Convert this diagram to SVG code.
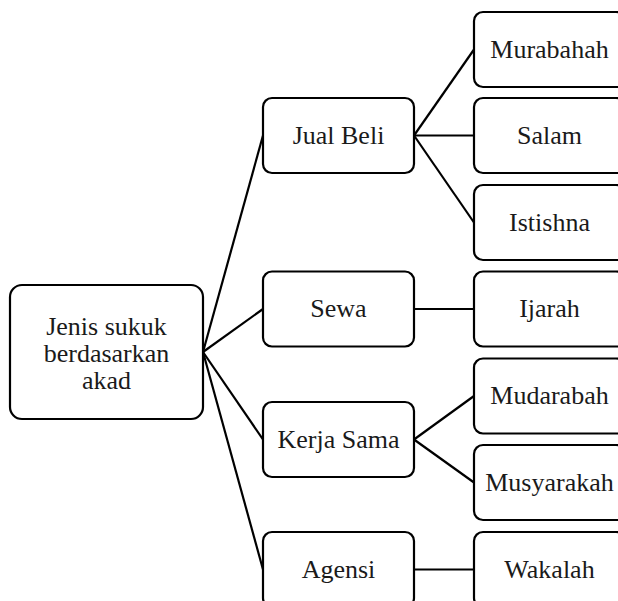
<svg xmlns="http://www.w3.org/2000/svg" width="618" height="601" viewBox="0 0 618 601">
  <style>
    .box { fill: #ffffff; stroke: #000000; stroke-width: 2.2; }
    .lbl { font-family: "Liberation Serif", "DejaVu Serif", serif; font-size: 26px; fill: #1a1a1a; text-anchor: middle; }
    .links line { stroke: #000000; stroke-width: 2.2; }
  </style>
  <rect width="618" height="601" fill="#ffffff"/>

  <!-- connectors -->
  <g id="connectors" class="links">
    <line x1="203" y1="352" x2="263" y2="135.5"/>
    <line x1="203" y1="352" x2="263" y2="309"/>
    <line x1="203" y1="352" x2="263" y2="439.5"/>
    <line x1="203" y1="352" x2="263" y2="569.5"/>
    <line x1="414" y1="135.5" x2="474" y2="49.5"/>
    <line x1="414" y1="135.5" x2="474" y2="135.5"/>
    <line x1="414" y1="135.5" x2="474" y2="222.5"/>
    <line x1="414" y1="309" x2="474" y2="309"/>
    <line x1="414" y1="439.5" x2="474" y2="396"/>
    <line x1="414" y1="439.5" x2="474" y2="482.5"/>
    <line x1="414" y1="569.5" x2="474" y2="569.5"/>
  </g>

  <!-- root -->
  <g id="root">
    <rect class="box" x="10" y="285" width="193" height="134" rx="12"/>
    <text class="lbl" x="106.5" y="335">Jenis sukuk</text>
    <text class="lbl" x="106.5" y="362">berdasarkan</text>
    <text class="lbl" x="106.5" y="389">akad</text>
  </g>

  <!-- second level -->
  <g id="jual-beli">
    <rect class="box" x="263" y="98" width="151" height="75" rx="9"/>
    <text class="lbl" x="338.5" y="144">Jual Beli</text>
  </g>
  <g id="sewa">
    <rect class="box" x="263" y="271.5" width="151" height="75" rx="9"/>
    <text class="lbl" x="338.5" y="317">Sewa</text>
  </g>
  <g id="kerja-sama">
    <rect class="box" x="263" y="402" width="151" height="75" rx="9"/>
    <text class="lbl" x="338.5" y="448">Kerja Sama</text>
  </g>
  <g id="agensi">
    <rect class="box" x="263" y="532" width="151" height="75" rx="9"/>
    <text class="lbl" x="338.5" y="578">Agensi</text>
  </g>

  <!-- third level -->
  <g id="murabahah">
    <rect class="box" x="474" y="12" width="151" height="75" rx="9"/>
    <text class="lbl" x="549.5" y="58">Murabahah</text>
  </g>
  <g id="salam">
    <rect class="box" x="474" y="98" width="151" height="75" rx="9"/>
    <text class="lbl" x="549.5" y="144">Salam</text>
  </g>
  <g id="istishna">
    <rect class="box" x="474" y="185" width="151" height="75" rx="9"/>
    <text class="lbl" x="549.5" y="231">Istishna</text>
  </g>
  <g id="ijarah">
    <rect class="box" x="474" y="271.5" width="151" height="75" rx="9"/>
    <text class="lbl" x="549.5" y="317">Ijarah</text>
  </g>
  <g id="mudarabah">
    <rect class="box" x="474" y="358.5" width="151" height="75" rx="9"/>
    <text class="lbl" x="549.5" y="404">Mudarabah</text>
  </g>
  <g id="musyarakah">
    <rect class="box" x="474" y="445" width="151" height="75" rx="9"/>
    <text class="lbl" x="549.5" y="491">Musyarakah</text>
  </g>
  <g id="wakalah">
    <rect class="box" x="474" y="532" width="151" height="75" rx="9"/>
    <text class="lbl" x="549.5" y="578">Wakalah</text>
  </g>
</svg>
